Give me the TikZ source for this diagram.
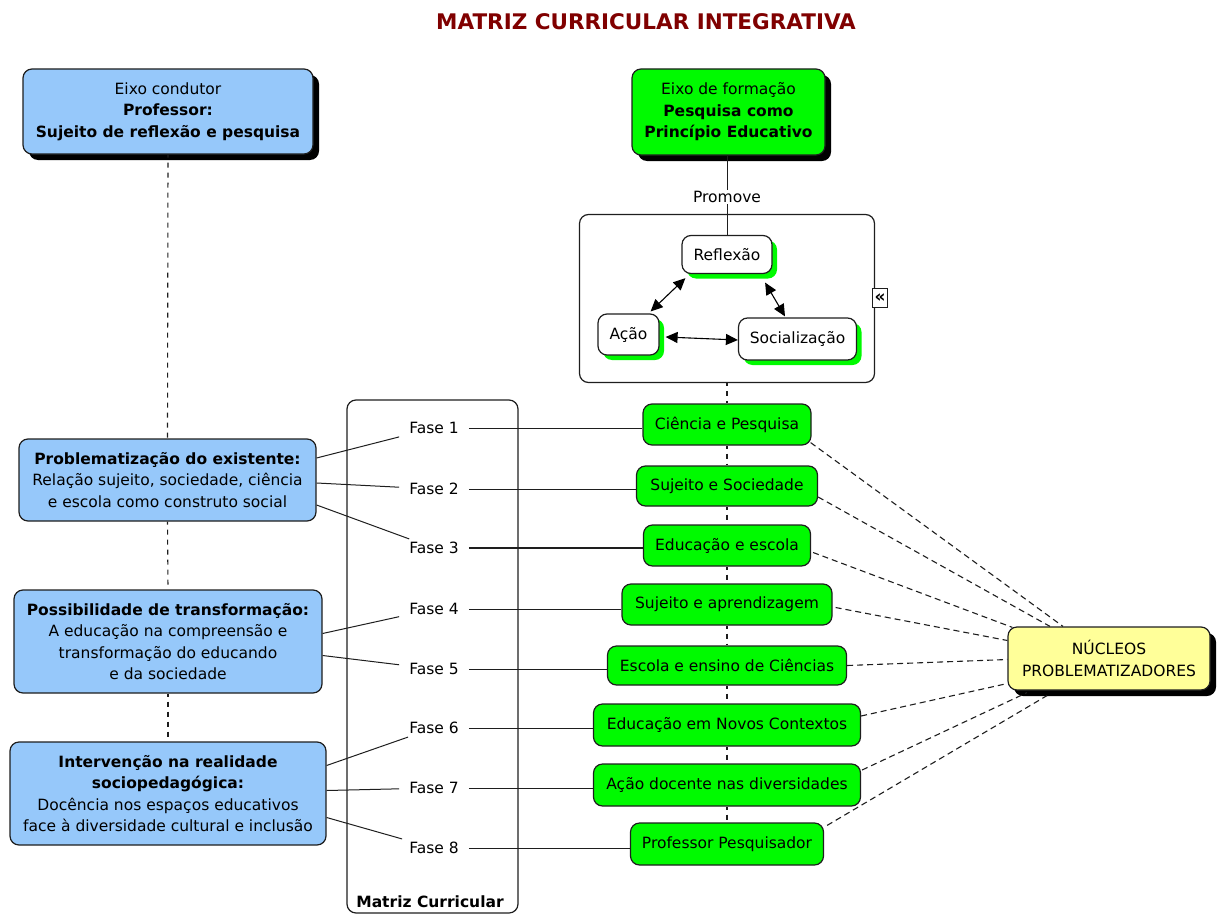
\documentclass[tikz,border=0pt]{standalone}
\usepackage{fontspec}
\setmainfont{DejaVu Sans}
\usetikzlibrary{shadows,arrows.meta,calc}
\definecolor{titlered}{RGB}{128,0,0}
\definecolor{boxblue}{RGB}{150,200,250}
\definecolor{boxgreen}{RGB}{0,250,0}
\definecolor{boxyellow}{RGB}{255,255,153}
\definecolor{edge}{RGB}{30,30,30}
\begin{document}
\begin{tikzpicture}[x=1pt,y=-1pt,
  every node/.style={font=\fontsize{15.5}{21.5}\selectfont},
  box/.style={draw=edge, line width=1.2pt, rounded corners=9pt, align=center, inner sep=2pt},
  bluebox/.style={box, fill=boxblue},
  greenbox/.style={box, fill=boxgreen},
  whitebox/.style={box, fill=white},
  darkshadow/.style={drop shadow={shadow xshift=6pt, shadow yshift=-6pt, fill=black, opacity=1}},
  greenshadow/.style={drop shadow={shadow xshift=5pt, shadow yshift=-5pt, fill=boxgreen, opacity=1}},
  fase/.style={inner xsep=10pt, inner ysep=3pt},
  conn/.style={draw=edge, line width=1pt},
  dconn/.style={draw=edge, line width=1.1pt, dash pattern=on 6pt off 4pt},
  vdash/.style={draw=edge, line width=1.1pt, dash pattern=on 5pt off 5pt, dash phase=2pt},
  dblarrow/.style={draw=black, line width=1.1pt, {Triangle[length=12pt,width=11pt]}-{Triangle[length=12pt,width=11pt]}}
]
\useasboundingbox (0,0) rectangle (1225,915);

% title
\node[font=\fontsize{21.5}{26}\selectfont\bfseries, text=titlered] (title) at (646,22) {MATRIZ CURRICULAR INTEGRATIVA};

% top boxes
\node[bluebox, darkshadow, minimum width=290pt, minimum height=85pt] (b1) at (168,111.5)
  {Eixo condutor\\\textbf{Professor:}\\\textbf{Sujeito de reflexão e pesquisa}};
\node[greenbox, darkshadow, minimum width=193pt, minimum height=86pt] (b2) at (728.5,112)
  {Eixo de formação\\\textbf{Pesquisa como}\\\textbf{Princípio Educativo}};

% container
\node[draw=edge, line width=1.2pt, rounded corners=9pt, fill=white, minimum width=295pt, minimum height=168pt] (ct) at (727,298.5) {};
\node[draw=edge, line width=1pt, fill=white, inner sep=0pt, minimum width=15pt, minimum height=19pt, font=\fontsize{17}{17}\selectfont\bfseries] (ic) at (880,298) {«};

\node[whitebox, greenshadow, minimum width=90pt, minimum height=38pt] (rf) at (727,254.5) {Reflexão};
\node[whitebox, greenshadow, minimum width=61pt, minimum height=41pt] (ac) at (628.5,334.5) {Ação};
\node[whitebox, greenshadow, minimum width=118pt, minimum height=42pt] (so) at (797.5,339) {Socialização};

\draw[conn] (rf.north |- b2.south) -- (rf.north) node[pos=0.52, fill=white, inner sep=1pt] (pm) {Promove};

\draw[dblarrow] ($(rf.south west)+(4,4)$) -- ($(ac.north east)+(-9,-2)$);
\draw[dblarrow] ($(rf.south east)+(-7.5,8.5)$) -- ($(so.north)+(-12.5,-1)$);
\draw[dblarrow] ($(ac.east)+(6,2.5)$) -- ($(so.west)+(0,1)$);

% matriz curricular column
\node[draw=edge, line width=1.2pt, rounded corners=9pt, minimum width=171pt, minimum height=513pt] (mc) at (432.5,656.5) {};
\node[font=\fontsize{15.5}{18}\selectfont\bfseries, anchor=south] (mct) at (430,911) {Matriz Curricular};

% green theme nodes
\node[greenbox, minimum width=168pt, minimum height=41pt] (g1) at (727,424.5) {Ciência e Pesquisa};
\node[greenbox, minimum width=181pt, minimum height=40pt] (g2) at (727,486) {Sujeito e Sociedade};
\node[greenbox, minimum width=167pt, minimum height=41pt] (g3) at (727,545.5) {Educação e escola};
\node[greenbox, minimum width=210pt, minimum height=41pt] (g4) at (727,604.5) {Sujeito e aprendizagem};
\node[greenbox, minimum width=239pt, minimum height=39pt] (g5) at (727,665.5) {Escola e ensino de Ciências};
\node[greenbox, minimum width=267pt, minimum height=42pt] (g6) at (727,725) {Educação em Novos Contextos};
\node[greenbox, minimum width=267pt, minimum height=42pt] (g7) at (727,785) {Ação docente nas diversidades};
\node[greenbox, minimum width=193pt, minimum height=42pt] (g8) at (727,844) {Professor Pesquisador};

\draw[vdash] (ct.south) -- (g1.north);
\draw[vdash] (g1.south) -- (g2.north);
\draw[vdash] (g2.south) -- (g3.north);
\draw[vdash] (g3.south) -- (g4.north);
\draw[vdash] (g4.south) -- (g5.north);
\draw[vdash] (g5.south) -- (g6.north);
\draw[vdash] (g6.south) -- (g7.north);
\draw[vdash] (g7.south) -- (g8.north);

% fases
\node[fase] (f1) at (434,428) {Fase 1};
\node[fase] (f2) at (434,489) {Fase 2};
\node[fase] (f3) at (434,548) {Fase 3};
\node[fase] (f4) at (434,609) {Fase 4};
\node[fase] (f5) at (434,669) {Fase 5};
\node[fase] (f6) at (434,728) {Fase 6};
\node[fase] (f7) at (434,788) {Fase 7};
\node[fase] (f8) at (434,848) {Fase 8};

\draw[conn] (f1.east) -- (f1.east -| g1.west);
\draw[conn] (f2.east) -- (f2.east -| g2.west);
\draw[conn, line width=1.4pt] (f3.east) -- (f3.east -| g3.west);
\draw[conn] (f4.east) -- (f4.east -| g4.west);
\draw[conn] (f5.east) -- (f5.east -| g5.west);
\draw[conn] (f6.east) -- (f6.east -| g6.west);
\draw[conn] (f7.east) -- (f7.east -| g7.west);
\draw[conn] (f8.east) -- (f8.east -| g8.west);

% left boxes
\node[bluebox, minimum width=297pt, minimum height=82pt] (pb) at (167.5,480)
  {\textbf{Problematização do existente:}\\Relação sujeito, sociedade, ciência\\e escola como construto social};
\node[bluebox, minimum width=308pt, minimum height=103pt] (ps) at (168,641.5)
  {\textbf{Possibilidade de transformação:}\\A educação na compreensão e\\transformação do educando\\e da sociedade};
\node[bluebox, minimum width=316pt, minimum height=103pt] (iv) at (168,793.5)
  {\textbf{Intervenção na realidade}\\\textbf{sociopedagógica:}\\Docência nos espaços educativos\\face à diversidade cultural e inclusão};

\draw[vdash] (b1.south) -- (pb.north);
\draw[vdash] (pb.south) -- (ps.north);
\draw[vdash] (ps.south) -- (iv.north);

\draw[conn] ($(pb.east)+(0,-22)$) -- (f1);
\draw[conn] ($(pb.east)+(0,3)$) -- (f2);
\draw[conn] ($(pb.east)+(0,25)$) -- (f3);
\draw[conn] ($(ps.east)+(0,-8)$) -- (f4);
\draw[conn] ($(ps.east)+(0,14)$) -- (f5);
\draw[conn] ($(iv.east)+(0,-28)$) -- (f6);
\draw[conn] ($(iv.east)+(0,-3)$) -- (f7);
\draw[conn] ($(iv.east)+(0,24)$) -- (f8);

% nucleos
\node[box, fill=boxyellow, darkshadow, minimum width=202pt, minimum height=63pt] (nu) at (1109,658.5)
  {NÚCLEOS\\PROBLEMATIZADORES};

\draw[dconn] ($(g1.south east)+(-1,-3)$) -- ($(nu.north)+(-46,0)$);
\draw[dconn] ($(g2.east)+(0,11)$) -- ($(nu.north)+(-59,0)$);
\draw[dconn] ($(g3.east)+(2,7)$) -- ($(nu.north west)+(5,1)$);
\draw[dconn] ($(g4.east)+(3,3)$) -- ($(nu.west)+(0,-18)$);
\draw[dconn] (g5.east) -- ($(nu.west)+(0,1)$);
\draw[dconn] ($(g6.east)+(0,-9)$) -- ($(nu.west)+(0,25)$);
\draw[dconn] ($(g7.east)+(1,-15)$) -- ($(nu.south)+(-82,2)$);
\draw[dconn] ($(g8.north east)+(3,3)$) -- ($(nu.south)+(-62,5)$);
\end{tikzpicture}
\end{document}
